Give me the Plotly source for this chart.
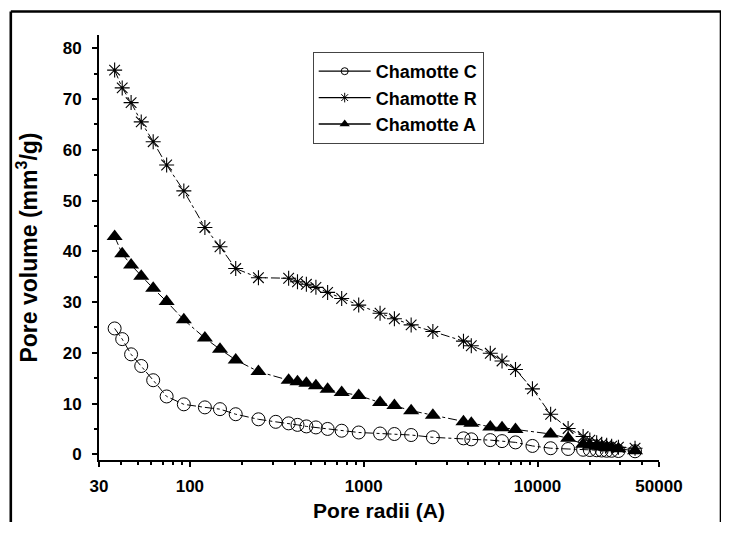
import plotly.graph_objects as go

# ---- data ----
x_C = [36.9, 40.8, 45.9, 52.5, 61.5, 73.5, 92.3, 122, 149, 183.5, 248, 312, 370, 416, 468,
       531, 620, 747, 936, 1242, 1502, 1875, 2500, 3750, 4160, 5350, 6250, 7470, 9350,
       11900, 15000, 18300, 20000, 21900, 23400, 25000, 26700, 29200, 36400]
y_C = [24.8, 22.7, 19.7, 17.4, 14.6, 11.4, 9.85, 9.25, 8.9, 7.9, 6.9, 6.4, 6.1, 5.8, 5.5,
       5.3, 5.0, 4.65, 4.3, 4.1, 4.0, 3.8, 3.35, 3.15, 2.95, 2.8, 2.6, 2.35, 1.65,
       1.2, 1.05, 0.9, 0.85, 0.8, 0.75, 0.7, 0.7, 0.65, 0.6]

x_R = [36.9, 40.8, 45.9, 52.5, 61.5, 73.5, 92.3, 122, 149, 183.5, 248, 370, 416, 468,
       531, 620, 747, 936, 1242, 1502, 1875, 2500, 3750, 4160, 5350, 6250, 7470, 9350,
       11900, 15000, 18300, 20000, 21900, 23400, 25000, 26700, 29200, 36400]
y_R = [75.7, 72.2, 69.3, 65.5, 61.6, 57.0, 51.9, 44.7, 40.9, 36.6, 34.8, 34.7, 34.0, 33.5,
       32.9, 31.9, 30.7, 29.4, 27.8, 26.7, 25.5, 24.2, 22.3, 21.4, 19.9, 18.4, 16.7, 12.9,
       7.9, 5.1, 3.5, 2.8, 2.3, 2.0, 1.8, 1.6, 1.4, 1.2]

x_A = [36.9, 40.8, 45.9, 52.5, 61.5, 73.5, 92.3, 122, 149, 183.5, 248, 370, 416, 468,
       531, 620, 747, 936, 1242, 1502, 1875, 2500, 3750, 4160, 5350, 6250, 7470,
       11900, 15000, 18300, 20000, 21900, 23400, 25000, 26700, 29200, 36400]
y_A = [42.9, 39.5, 37.3, 35.1, 32.7, 30.1, 26.5, 22.9, 20.7, 18.6, 16.3, 14.6, 14.3, 14.0,
       13.5, 12.8, 12.2, 11.6, 10.2, 9.6, 8.6, 7.7, 6.4, 6.1, 5.4, 5.25, 4.9,
       4.0, 3.15, 2.0, 1.8, 1.6, 1.5, 1.4, 1.3, 1.1, 0.7]

series_names = ["Chamotte C", "Chamotte R", "Chamotte A"]
x_tickvals = [30, 100, 1000, 10000, 50000]
x_ticktext = ["30", "100", "1000", "10000", "50000"]
x_minor = [40, 50, 60, 70, 80, 90, 200, 300, 400, 500, 600, 700, 800, 900,
           2000, 3000, 4000, 5000, 6000, 7000, 8000, 9000, 20000, 30000, 40000]
y_tickvals = [0, 10, 20, 30, 40, 50, 60, 70, 80]

FONT = "Liberation Sans, Arial, sans-serif"

fig = go.Figure()

styles = [
    dict(symbol="circle-open", size=13, color="black", line=dict(width=1, color="black")),
    dict(symbol="asterisk-open", size=12.5, color="black", line=dict(width=1.1, color="black")),
    dict(symbol="triangle-up", size=14, color="black", line=dict(width=0, color="black")),
]
legend_styles = [
    dict(symbol="circle-open", size=7, color="black", line=dict(width=1, color="black")),
    dict(symbol="asterisk-open", size=8, color="black", line=dict(width=1, color="black")),
    dict(symbol="triangle-up", size=9, color="black", line=dict(width=0, color="black")),
]

data = [(x_C, y_C), (x_R, y_R), (x_A, y_A)]
for (xs, ys), name, st in zip(data, series_names, styles):
    fig.add_trace(go.Scatter(
        x=xs, y=ys, mode="lines+markers", name=name, showlegend=False,
        line=dict(color="black", width=1, dash="dashdot"),
        marker=st, cliponaxis=False,
    ))

for name, st in zip(series_names, legend_styles):
    fig.add_trace(go.Scatter(
        x=[None], y=[None], mode="lines+markers", name=name, showlegend=True,
        line=dict(color="black", width=1.3), marker=st,
    ))

# The page body has an 8px margin; work in screen pixels and convert.
OFF = 8
W, H = 729 - OFF - 2, 533 - 2 * OFF - 3
L, T = 99 - OFF, 35 - OFF
pw, ph = 560, 425
R_ = W - L - pw
B = H - T - ph

def px(xs):  # screen x -> paper
    return (xs - OFF - L) / pw

def py(ys):  # screen y -> paper
    return (T + ph - (ys - OFF)) / ph

fx0, fx1, fy0, fy1 = px(10.8), px(721.0), py(OFF + H), py(11.5)
for (a, b, c, d) in [(fx0, fy1, fx1, fy1), (fx0, fy0, fx0, fy1), (fx1, fy0, fx1, fy1)]:
    fig.add_shape(type="line", xref="paper", yref="paper",
                  x0=a, y0=b, x1=c, y1=d, layer="above",
                  line=dict(color="black", width=2.6))

fig.update_layout(
    width=W, height=H,
    margin=dict(l=L, r=R_, t=T, b=B, autoexpand=False),
    paper_bgcolor="white", plot_bgcolor="white",
    font=dict(family=FONT, color="black"),
    showlegend=True,
    legend=dict(
        x=px(312.7), y=py(52), xanchor="left", yanchor="top",
        bgcolor="white", bordercolor="#444", borderwidth=1,
        font=dict(family=FONT, size=18, color="black", weight="bold"),
        tracegroupgap=0, itemwidth=52,
    ),
    xaxis=dict(
        type="log", range=[1.4771213, 4.69897],
        tickmode="array", tickvals=x_tickvals, ticktext=x_ticktext,
        ticks="outside", ticklen=5, tickwidth=2, tickcolor="black",
        showline=True, linecolor="black", linewidth=2,
        showgrid=False, zeroline=False, mirror=False,
        tickfont=dict(family=FONT, size=17, color="black", weight="bold"),
        ticklabelstandoff=5,
        minor=dict(tickmode="array", tickvals=x_minor, ticks="outside",
                   ticklen=3, tickwidth=2, tickcolor="black", showgrid=False),
        title=dict(text="Pore radii (A)", standoff=14,
                   font=dict(family=FONT, size=21, color="black", weight="bold")),
    ),
    yaxis=dict(
        range=[-1.12, 82.62],
        tickmode="array", tickvals=y_tickvals,
        ticks="outside", ticklen=5, tickwidth=2, tickcolor="black",
        showline=True, linecolor="black", linewidth=2,
        showgrid=False, zeroline=False, mirror=False,
        tickfont=dict(family=FONT, size=17, color="black", weight="bold"),
        ticklabelstandoff=7,
        minor=dict(tickmode="linear", tick0=5, dtick=10, ticks="outside",
                   ticklen=3, tickwidth=2, tickcolor="black", showgrid=False),
        title=dict(text="Pore volume (mm<sup>3</sup>/g)", standoff=19,
                   font=dict(family=FONT, size=23, color="black", weight="bold")),
    ),
)

fig.write_html("out.html")
